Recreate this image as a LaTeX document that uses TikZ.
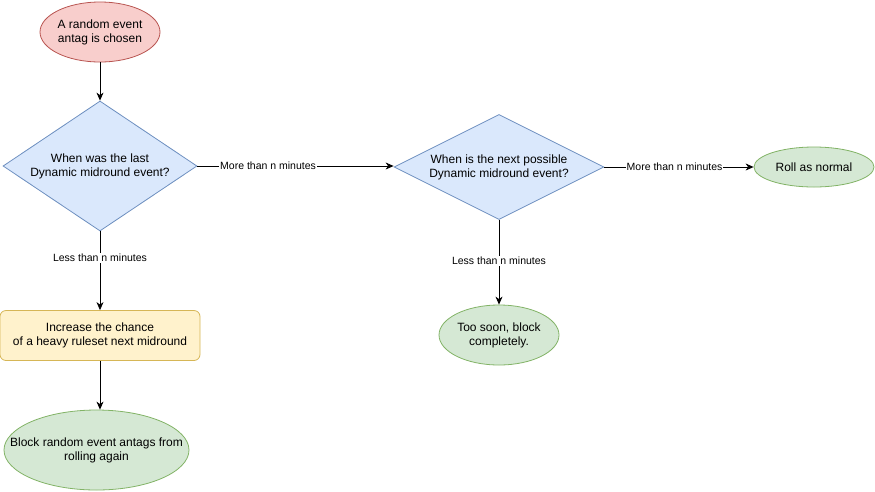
\documentclass[tikz,border=0pt]{standalone}
\usepackage{fontspec}
\setmainfont{Liberation Sans}
\usetikzlibrary{shapes.geometric,arrows.meta}
\definecolor{redfill}{HTML}{F8CECC}\definecolor{redline}{HTML}{B85450}
\definecolor{bluefill}{HTML}{DAE8FC}\definecolor{blueline}{HTML}{6C8EBF}
\definecolor{greenfill}{HTML}{D5E8D4}\definecolor{greenline}{HTML}{82B366}
\definecolor{yellowfill}{HTML}{FFF2CC}\definecolor{yellowline}{HTML}{D6B656}
\begin{document}
\begin{tikzpicture}[x=1pt,y=-1pt,
  every node/.style={font=\fontsize{12}{14}\selectfont, align=center, inner sep=0pt},
  ell/.style={ellipse, draw=#1line, fill=#1fill, line width=0.8pt},
  dia/.style={diamond, draw=blueline, fill=bluefill, line width=0.8pt, shape aspect=2},
  rbox/.style={rectangle, rounded corners=6pt, draw=yellowline, fill=yellowfill, line width=0.8pt},
  conn/.style={draw=black, line width=0.8pt, -{Stealth[length=8pt,width=7pt,inset=2.5pt]}},
  lbl/.style={font=\fontsize{10.5}{12}\selectfont, fill=white, inner sep=1pt}]
\useasboundingbox (0,0) rectangle (875,491);
\node[ell=red, minimum width=120pt, minimum height=60pt] (start) at (100,32) {A random event\\antag is chosen};
\node[dia, minimum width=194pt, minimum height=130pt] (d1) at (100,166) {When was the last\\Dynamic midround event?};
\node[dia, minimum width=210pt, minimum height=105pt] (d2) at (499,167) {When is the next possible\\Dynamic midround event?};
\node[ell=green, minimum width=120pt, minimum height=40pt] (roll) at (814,167) {Roll as normal};
\node[ell=green, minimum width=120pt, minimum height=60pt] (soon) at (499,335) {Too soon, block\\completely.};
\node[rbox, minimum width=200pt, minimum height=50pt] (inc) at (100,335.5) {Increase the chance\\of a heavy ruleset next midround};
\node[ell=green, minimum width=185pt, minimum height=80pt] (block) at (96.5,450) {};
\node (blocktext) at (block.center) {Block random event antags from\\rolling again};
\draw[conn] (start) -- (d1);
\draw[conn] (d1.east) -- node[lbl, pos=0.36] {More than n minutes} (d1.east -| d2.west);
\draw[conn] (d2.east) -- node[lbl, pos=0.47] {More than n minutes} (roll.west);
\draw[conn] (d1.south) -- node[lbl, pos=0.34] {Less than n minutes} (d1.south |- inc.north);
\draw[conn] (d2.south) -- node[lbl, pos=0.485] {Less than n minutes} (soon.north);
\draw[conn] (inc.south) -- (inc.south |- block.north);
\end{tikzpicture}
\end{document}
